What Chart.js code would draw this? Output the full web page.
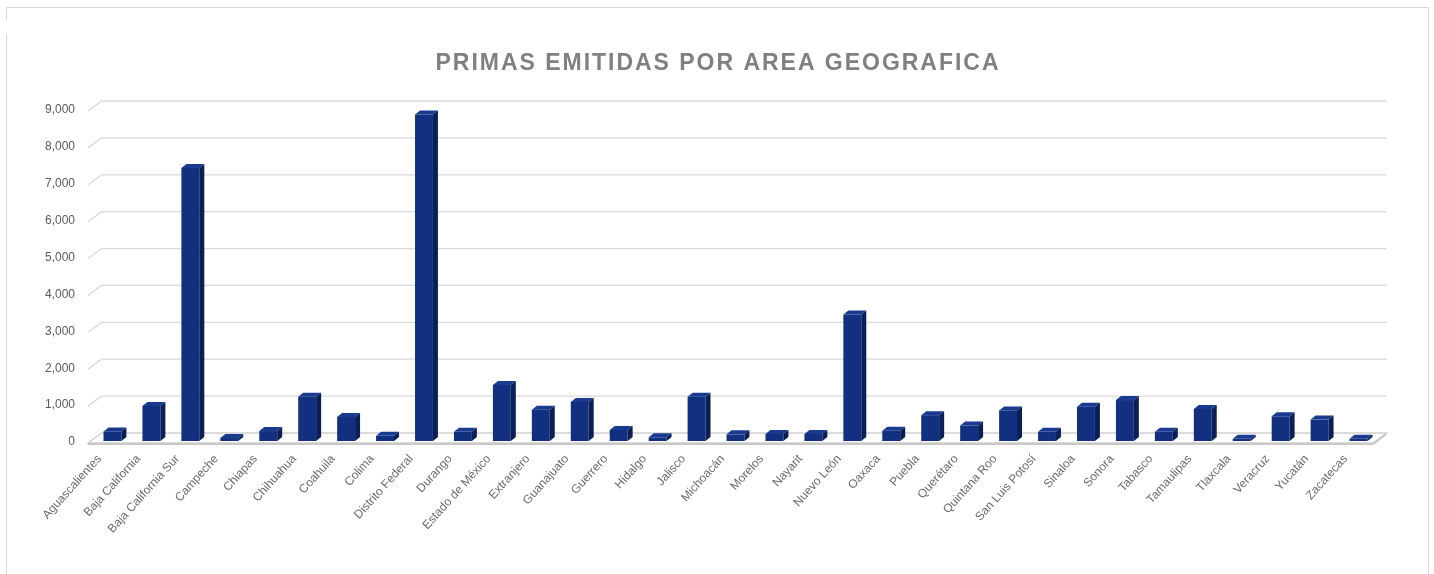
<!DOCTYPE html>
<html>
<head>
<meta charset="utf-8">
<script src="https://cdn.jsdelivr.net/npm/chart.js@4"></script>
<style>
  html, body { margin: 0; padding: 0; background: #fff; }
  #wrap { position: relative; width: 1434px; height: 574px; overflow: hidden; }
  #frame { position: absolute; left: 6px; top: 7px; width: 1423px; height: 600px; border: 1px solid #d9d9d9; box-sizing: border-box; }
  #patch { position: absolute; left: 5px; top: 20px; width: 95px; height: 14px; background: #fff; }
  canvas { position: absolute; left: 0; top: 0; }
</style>
</head>
<body>
<div id="wrap">
  <div id="frame"></div>
  <div id="patch"></div>
  <canvas id="chart" width="1434" height="574"></canvas>
</div>
<script>
// ── data ──
const TITLE = "PRIMAS EMITIDAS POR AREA GEOGRAFICA";

const estados = [
  "Aguascalientes", "Baja California", "Baja California Sur", "Campeche",
  "Chiapas", "Chihuahua", "Coahuila", "Colima", "Distrito Federal",
  "Durango", "Estado de México", "Extranjero", "Guanajuato", "Guerrero",
  "Hidalgo", "Jalisco", "Michoacán", "Morelos", "Nayarit", "Nuevo León",
  "Oaxaca", "Puebla", "Querétaro", "Quintana Roo", "San Luis Potosí",
  "Sinaloa", "Sonora", "Tabasco", "Tamaulipas", "Tlaxcala", "Veracruz",
  "Yucatán", "Zacatecas",
];

const primas = [
  260, 950, 7400, 80, 270, 1200, 650, 140, 8850, 250, 1520, 850, 1060, 300,
  100, 1200, 180, 190, 190, 3430, 280, 700, 420, 830, 250, 930, 1110, 250,
  870, 60, 670, 580, 60,
];

const yTicks = [0, 1000, 2000, 3000, 4000, 5000, 6000, 7000, 8000, 9000];

// ── 3D look helpers ──
const FRONT = { x: -5, y: 2 };   // floor front edge vs bar plane
const BACK = { x: 8.5, y: -8 };  // back wall vs bar plane
const DEPTH = { x: 5, y: -4 };   // bar depth
const GRID = "#d9d9d9";
const TITLE_WIDTH = 563;

const wallPlugin = {
  id: "wall",
  beforeDatasetsDraw(chart) {
    const { ctx, chartArea: a, scales: { y } } = chart;
    ctx.save();
    ctx.strokeStyle = GRID;
    ctx.lineWidth = 1.3;
    for (const v of yTicks) {
      if (v === 0) continue;
      const py = y.getPixelForValue(v);
      ctx.beginPath();
      ctx.moveTo(a.left + FRONT.x, py + FRONT.y);
      ctx.lineTo(a.left + BACK.x, py + BACK.y);
      ctx.lineTo(a.right + BACK.x, py + BACK.y);
      ctx.stroke();
    }
    // floor slab
    const p0 = y.getPixelForValue(0);
    ctx.fillStyle = "#ffffff";
    ctx.strokeStyle = "#d0d0d0";
    ctx.lineWidth = 1.3;
    ctx.beginPath();
    ctx.moveTo(a.left + FRONT.x, p0 + FRONT.y);
    ctx.lineTo(a.left + BACK.x, p0 + BACK.y);
    ctx.lineTo(a.right + BACK.x, p0 + BACK.y);
    ctx.lineTo(a.right + FRONT.x, p0 + FRONT.y);
    ctx.closePath();
    ctx.fill();
    ctx.stroke();
    ctx.strokeStyle = "#c8c8c8";
    ctx.lineWidth = 2;
    ctx.beginPath();
    ctx.moveTo(a.left + FRONT.x, p0 + FRONT.y + 1);
    ctx.lineTo(a.right + FRONT.x, p0 + FRONT.y + 1);
    ctx.lineTo(a.right + BACK.x, p0 + BACK.y + 1);
    ctx.stroke();
    ctx.restore();
  },
  afterDatasetsDraw(chart) {
    const { ctx } = chart;
    const meta = chart.getDatasetMeta(0);
    ctx.save();
    for (const bar of meta.data) {
      const { x, y, base, width } = bar.getProps(["x", "y", "base", "width"], true);
      const l = x - width / 2, r = x + width / 2;
      // top face
      ctx.fillStyle = "#1a3a90";
      ctx.beginPath();
      ctx.moveTo(l, y);
      ctx.lineTo(l + DEPTH.x, y + DEPTH.y);
      ctx.lineTo(r + DEPTH.x, y + DEPTH.y);
      ctx.lineTo(r, y);
      ctx.closePath();
      ctx.fill();
      // side face
      ctx.fillStyle = "#0b1f57";
      ctx.beginPath();
      ctx.moveTo(r, y);
      ctx.lineTo(r + DEPTH.x, y + DEPTH.y);
      ctx.lineTo(r + DEPTH.x, base + DEPTH.y);
      ctx.lineTo(r, base);
      ctx.closePath();
      ctx.fill();
    }
    ctx.restore();
  },
  afterDraw(chart) {
    const { ctx, width } = chart;
    ctx.save();
    ctx.font = "bold 23px 'Liberation Sans', Arial, sans-serif";
    ctx.fillStyle = "#808080";
    ctx.textAlign = "center";
    ctx.textBaseline = "middle";
    const w = ctx.measureText(TITLE).width;
    ctx.letterSpacing = Math.max(0, (TITLE_WIDTH - w) / (TITLE.length - 1)) + "px";
    ctx.fillText(TITLE, width / 2 + 1, 64);
    ctx.restore();
  },
};

new Chart(document.getElementById("chart"), {
  type: "bar",
  data: {
    labels: estados,
    datasets: [{
      data: primas,
      backgroundColor: "#122f80",
      borderWidth: 0,
      barPercentage: 0.46,
      categoryPercentage: 1,
    }],
  },
  options: {
    responsive: false,
    animation: false,
    devicePixelRatio: 1,
    layout: { padding: { top: 109, right: 56, bottom: 0, left: 0 } },
    plugins: {
      legend: { display: false },
      tooltip: { enabled: false },
      title: { display: false },
    },
    scales: {
      x: {
        grid: { display: false, drawTicks: false },
        border: { display: false },
        ticks: {
          color: "#6a6a6a",
          font: { family: "'Liberation Sans', Arial, sans-serif", size: 12 },
          maxRotation: 48,
          minRotation: 48,
          autoSkip: false,
          labelOffset: -13,
          padding: 11,
        },
        afterFit(scale) { scale.height = 133; },
      },
      y: {
        min: 0,
        max: 9000,
        grid: { display: false, drawTicks: false },
        border: { display: false },
        ticks: {
          stepSize: 1000,
          color: "#595959",
          font: { family: "'Liberation Sans', Arial, sans-serif", size: 12 },
          padding: 18,
          labelOffset: 1,
          callback: (v) => v.toLocaleString("en-US"),
        },
        afterFit(scale) { scale.width = 93; },
      },
    },
  },
  plugins: [wallPlugin],
});
</script>
</body>
</html>
